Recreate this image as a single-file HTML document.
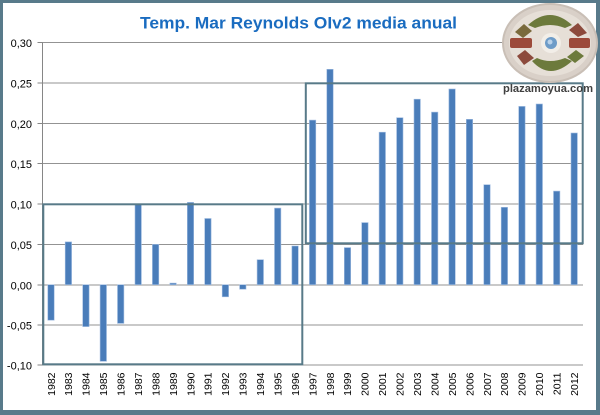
<!DOCTYPE html>
<html>
<head>
<meta charset="utf-8">
<style>
  html, body { margin:0; padding:0; background:#ffffff; }
  body { width:600px; height:415px; overflow:hidden; }
  svg { display:block; }
</style>
</head>
<body>
<svg width="600" height="415" viewBox="0 0 600 415" xmlns="http://www.w3.org/2000/svg">
  <!-- frame -->
  <rect x="0" y="0" width="600" height="415" fill="#587a8a"/>
  <rect x="3" y="3" width="593" height="407" fill="#ffffff"/>

  <!-- gridlines -->
  <g stroke="#939393" stroke-width="1" shape-rendering="crispEdges">
    <line x1="42.7" y1="42.5" x2="583" y2="42.5"/>
    <line x1="42.7" y1="83" x2="583" y2="83"/>
    <line x1="42.7" y1="123.5" x2="583" y2="123.5"/>
    <line x1="42.7" y1="163.5" x2="583" y2="163.5"/>
    <line x1="42.7" y1="204" x2="583" y2="204"/>
    <line x1="42.7" y1="244.5" x2="583" y2="244.5"/>
    <line x1="42.7" y1="285" x2="583" y2="285"/>
    <line x1="42.7" y1="325" x2="583" y2="325"/>
    <line x1="42.7" y1="365" x2="583" y2="365"/>
  </g>
  <!-- y axis + ticks -->
  <g stroke="#868686" stroke-width="1" shape-rendering="crispEdges">
    <line x1="42.5" y1="42.5" x2="42.5" y2="365.5"/>
    <line x1="37.5" y1="42.5" x2="42.5" y2="42.5"/>
    <line x1="37.5" y1="83" x2="42.5" y2="83"/>
    <line x1="37.5" y1="123.5" x2="42.5" y2="123.5"/>
    <line x1="37.5" y1="163.5" x2="42.5" y2="163.5"/>
    <line x1="37.5" y1="204" x2="42.5" y2="204"/>
    <line x1="37.5" y1="244.5" x2="42.5" y2="244.5"/>
    <line x1="37.5" y1="285" x2="42.5" y2="285"/>
    <line x1="37.5" y1="325" x2="42.5" y2="325"/>
    <line x1="37.5" y1="365" x2="42.5" y2="365"/>
  </g>

  <!-- y labels -->
  <g font-family="'Liberation Sans', 'DejaVu Sans', sans-serif" font-size="11" fill="#000" text-anchor="end">
    <text x="32" y="47">0,30</text>
    <text x="32" y="87.5">0,25</text>
    <text x="32" y="128">0,20</text>
    <text x="32" y="168">0,15</text>
    <text x="32" y="208.5">0,10</text>
    <text x="32" y="249">0,05</text>
    <text x="32" y="289.5">0,00</text>
    <text x="32" y="329.5">-0,05</text>
    <text x="32" y="369.5">-0,10</text>
  </g>

  <!-- bars -->
  <g fill="#4a7dba" stroke="#9fbbe0" stroke-width="0.6">
    <rect x="47.8" y="284.7" width="6.4" height="35.5"/>
    <rect x="65.2" y="241.9" width="6.4" height="42.8"/>
    <rect x="82.7" y="284.7" width="6.4" height="41.9"/>
    <rect x="100.1" y="284.7" width="6.4" height="76.6"/>
    <rect x="117.5" y="284.7" width="6.4" height="38.7"/>
    <rect x="135.0" y="204.0" width="6.4" height="80.7"/>
    <rect x="152.4" y="244.4" width="6.4" height="40.3"/>
    <rect x="169.9" y="283.1" width="6.4" height="1.6"/>
    <rect x="187.3" y="202.4" width="6.4" height="82.3"/>
    <rect x="204.7" y="218.5" width="6.4" height="66.2"/>
    <rect x="222.2" y="284.7" width="6.4" height="12.1"/>
    <rect x="239.6" y="284.7" width="6.4" height="4.5"/>
    <rect x="257.1" y="259.7" width="6.4" height="25.0"/>
    <rect x="274.5" y="208.1" width="6.4" height="76.6"/>
    <rect x="291.9" y="246.0" width="6.4" height="38.7"/>
    <rect x="309.4" y="120.1" width="6.4" height="164.6"/>
    <rect x="326.8" y="69.3" width="6.4" height="215.4"/>
    <rect x="344.3" y="247.6" width="6.4" height="37.1"/>
    <rect x="361.7" y="222.6" width="6.4" height="62.1"/>
    <rect x="379.1" y="132.2" width="6.4" height="152.5"/>
    <rect x="396.6" y="117.7" width="6.4" height="167.0"/>
    <rect x="414.0" y="99.2" width="6.4" height="185.5"/>
    <rect x="431.5" y="112.1" width="6.4" height="172.6"/>
    <rect x="448.9" y="89.0" width="6.4" height="195.7"/>
    <rect x="466.3" y="119.3" width="6.4" height="165.4"/>
    <rect x="483.8" y="184.7" width="6.4" height="100.0"/>
    <rect x="501.2" y="207.3" width="6.4" height="77.4"/>
    <rect x="518.7" y="106.4" width="6.4" height="178.3"/>
    <rect x="536.1" y="104.0" width="6.4" height="180.7"/>
    <rect x="553.5" y="191.1" width="6.4" height="93.6"/>
    <rect x="571.0" y="133.0" width="6.4" height="151.7"/>
  </g>

  <!-- highlight boxes -->
  <g fill="none" stroke="#587a88" stroke-width="2">
    <rect x="43.3" y="204.3" width="259" height="160"/>
    <rect x="305.8" y="83.3" width="276.9" height="160"/>
  </g>

  <!-- x labels -->
  <g font-family="'Liberation Sans', 'DejaVu Sans', sans-serif" font-size="10.5" fill="#000" text-anchor="end">
    <text transform="translate(54.8,372.5) rotate(-90)">1982</text>
    <text transform="translate(72.2,372.5) rotate(-90)">1983</text>
    <text transform="translate(89.6,372.5) rotate(-90)">1984</text>
    <text transform="translate(107.1,372.5) rotate(-90)">1985</text>
    <text transform="translate(124.5,372.5) rotate(-90)">1986</text>
    <text transform="translate(142.0,372.5) rotate(-90)">1987</text>
    <text transform="translate(159.4,372.5) rotate(-90)">1988</text>
    <text transform="translate(176.8,372.5) rotate(-90)">1989</text>
    <text transform="translate(194.3,372.5) rotate(-90)">1990</text>
    <text transform="translate(211.7,372.5) rotate(-90)">1991</text>
    <text transform="translate(229.2,372.5) rotate(-90)">1992</text>
    <text transform="translate(246.6,372.5) rotate(-90)">1993</text>
    <text transform="translate(264.0,372.5) rotate(-90)">1994</text>
    <text transform="translate(281.5,372.5) rotate(-90)">1995</text>
    <text transform="translate(298.9,372.5) rotate(-90)">1996</text>
    <text transform="translate(316.4,372.5) rotate(-90)">1997</text>
    <text transform="translate(333.8,372.5) rotate(-90)">1998</text>
    <text transform="translate(351.2,372.5) rotate(-90)">1999</text>
    <text transform="translate(368.7,372.5) rotate(-90)">2000</text>
    <text transform="translate(386.1,372.5) rotate(-90)">2001</text>
    <text transform="translate(403.6,372.5) rotate(-90)">2002</text>
    <text transform="translate(421.0,372.5) rotate(-90)">2003</text>
    <text transform="translate(438.4,372.5) rotate(-90)">2004</text>
    <text transform="translate(455.9,372.5) rotate(-90)">2005</text>
    <text transform="translate(473.3,372.5) rotate(-90)">2006</text>
    <text transform="translate(490.8,372.5) rotate(-90)">2007</text>
    <text transform="translate(508.2,372.5) rotate(-90)">2008</text>
    <text transform="translate(525.6,372.5) rotate(-90)">2009</text>
    <text transform="translate(543.1,372.5) rotate(-90)">2010</text>
    <text transform="translate(560.5,372.5) rotate(-90)">2011</text>
    <text transform="translate(578.0,372.5) rotate(-90)">2012</text>
  </g>

  <!-- title -->
  <text x="298.5" y="28.5" text-anchor="middle" font-family="'Liberation Sans', 'DejaVu Sans', sans-serif" font-size="16.5" font-weight="bold" fill="#1a6cc0" textLength="317" lengthAdjust="spacingAndGlyphs">Temp. Mar Reynolds OIv2 media anual</text>

  <!-- logo -->
  <g>
    <ellipse cx="550" cy="43" rx="47" ry="39" fill="#d9d0c8" stroke="#c9bfb6" stroke-width="2"/>
    <ellipse cx="550" cy="43" rx="41" ry="33" fill="#e6dfd7"/>
    <path d="M528,25 Q550,5 572,25 L565,28 Q550,22 535,28 Z" fill="#6c7a3c"/>
    <path d="M532,61 Q550,81 572,61 L565,58 Q550,64 537,58 Z" fill="#6c7a3c"/>
    <path d="M515,32 L524,24 L532,31 L523,38 Z" fill="#7a6a3c"/>
    <path d="M569,30 L578,23 L587,33 L578,37 Z" fill="#8c4a3c"/>
    <rect x="510" y="38" width="22" height="10" rx="2" fill="#9c4a3a"/>
    <rect x="569" y="38" width="21" height="10" rx="2" fill="#9c4a3a"/>
    <path d="M517,56 L525,50 L534,58 L524,65 Z" fill="#8c4a3c"/>
    <path d="M567,57 L576,50 L584,56 L575,63 Z" fill="#6c7a3c"/>
    <circle cx="551" cy="43" r="10" fill="#f2eee8"/>
    <circle cx="551" cy="43" r="6" fill="#6e9cc8"/>
    <circle cx="550" cy="42" r="2.5" fill="#b9d2ea"/>
  </g>
  <text x="503" y="92" font-family="'Liberation Sans', 'DejaVu Sans', sans-serif" font-size="11" font-weight="bold" fill="#404040" textLength="90" lengthAdjust="spacingAndGlyphs">plazamoyua.com</text>
</svg>
</body>
</html>
